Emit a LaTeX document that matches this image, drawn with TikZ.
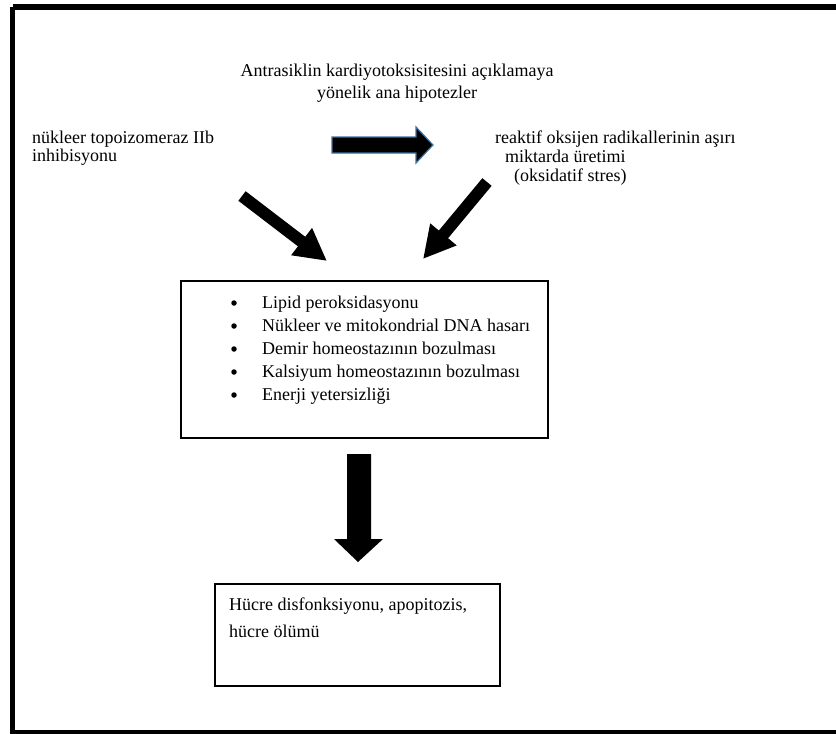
\documentclass[tikz,border=0pt]{standalone}
\usepackage{fontspec}
\setmainfont{Liberation Serif}
\usetikzlibrary{arrows.meta}
\definecolor{arrowedge}{RGB}{65,113,156}
\begin{document}
\begin{tikzpicture}[x=1pt,y=-1pt,
  txt/.style={font=\fontsize{18}{22}\selectfont, inner sep=0pt, anchor=base west},
  ctxt/.style={font=\fontsize{18}{22}\selectfont, inner sep=0pt, align=center, anchor=north},
  boxframe/.style={draw=black, line width=2.5pt},
  blockarrow/.style={line width=12pt, -{Triangle[length=32pt,width=32pt]}},
  bullet/.style={circle, fill=black, inner sep=0pt, minimum size=5.5pt}]
\useasboundingbox (0,0) rectangle (836,734);
\clip (0,0) rectangle (836,734);
% outer frame
\draw[line width=5.5pt] (12.5,7) -- (845,7);
\draw[line width=5pt] (12.5,7) -- (12.5,732.5) -- (845,732.5);
% title
\node[ctxt] (title) at (397,64) {Antrasiklin kardiyotoksisitesini açıklamaya\\yönelik ana hipotezler};
% left hypothesis
\node[txt] (left1) at (32,143) {nükleer topoizomeraz IIb};
\node[txt] (left2) at (32,161) {inhibisyonu};
% right hypothesis
\node[txt] (right1) at (495,143) {reaktif oksijen radikallerinin aşırı};
\node[txt] (right2) at (505,162) {miktarda üretimi};
\node[txt] (right3) at (514,181) {(oksidatif stres)};
% horizontal block arrow
\filldraw[fill=black, draw=arrowedge, line width=1.2pt]
  (332,137) -- (416,137) -- (416,127) -- (433,145) -- (416,163) -- (416,153) -- (332,153) -- cycle;
% diagonal arrows
\coordinate (lt) at (242,196);
\coordinate (lh) at (327,261);
\coordinate (rt) at (487,182);
\coordinate (rh) at (423,259);
\draw[blockarrow] (lt) -- (lh);
\draw[blockarrow] (rt) -- (rh);
% box 1
\draw[boxframe] (181,281) rectangle (548,438);
\foreach \y/\t [count=\i] in {308/Lipid peroksidasyonu,
                   331/Nükleer ve mitokondrial DNA hasarı,
                   354/Demir homeostazının bozulması,
                   377/Kalsiyum homeostazının bozulması,
                   400/Enerji yetersizliği}{
  \node[bullet] (b\i) at (234,\y-5) {};
  \node[txt] (item\i) at (262,\y) {\t};
}
% down block arrow
\fill (347,454) -- (371,454) -- (371,539) -- (383,539) -- (358,562) -- (334,539) -- (347,539) -- cycle;
% box 2
\draw[draw=black, line width=2.2pt] (215,584) rectangle (500,686);
\node[txt] (res1) at (229,610) {Hücre disfonksiyonu, apopitozis,};
\node[txt] (res2) at (229,637) {hücre ölümü};
\end{tikzpicture}
\end{document}
